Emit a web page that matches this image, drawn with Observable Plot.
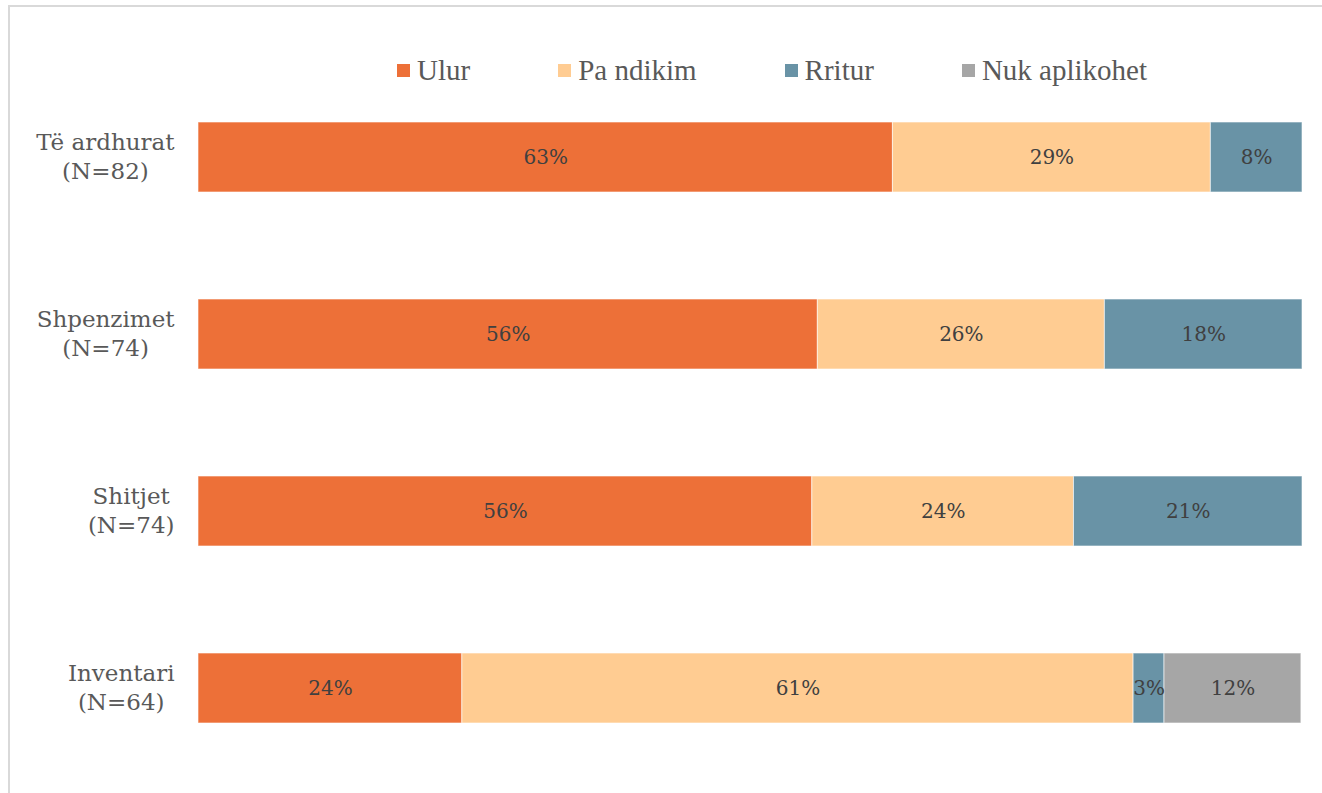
<!DOCTYPE html>
<html>
<head>
<meta charset="utf-8">
<script src="https://cdn.jsdelivr.net/npm/d3@7"></script>
<script src="https://cdn.jsdelivr.net/npm/@observablehq/plot@0.6"></script>
<style>
  html, body { margin: 0; padding: 0; background: #fff; }
  #wrap { position: relative; width: 1322px; height: 793px; overflow: hidden; background: #fff; }
  #frame { position: absolute; left: 8px; top: 5px; width: 1400px; height: 900px;
           border-left: 2px solid #d9d9d9; border-top: 2px solid #d9d9d9; }
  #legend { position: absolute; left: 397px; top: 54px; display: flex; gap: 88px;
            font-family: "Liberation Serif", serif; font-size: 29px; color: #595959; align-items: center; }
  #legend .item { display: flex; align-items: center; gap: 7px; }
  #legend .sw { width: 13px; height: 13px; display: inline-block; }
  #chart { position: absolute; left: 0; top: 0; }
</style>
</head>
<body>
<div id="wrap">
  <div id="frame"></div>
  <div id="chart"></div>
  <div id="legend"></div>
</div>
<script>
// ---- Data ----
const categories = ["Të ardhurat", "Shpenzimet", "Shitjet", "Inventari"];
const counts = [82, 74, 74, 64];
const series = ["Ulur", "Pa ndikim", "Rritur", "Nuk aplikohet"];
const colors = ["#ED7038", "#FFCC92", "#6993A6", "#A6A6A6"];
const ulur = [62.9, 56.1, 55.6, 23.9];
const paNdikim = [28.8, 26.0, 23.7, 60.8];
const rritur = [8.3, 17.9, 20.7, 2.8];
const nukAplikohet = [0, 0, 0, 12.4];

const seriesValues = [ulur, paNdikim, rritur, nukAplikohet];
const data = [];
series.forEach((s, si) => {
  categories.forEach((c, ci) => {
    data.push({category: c, series: s, value: seriesValues[si][ci]});
  });
});

const countOf = new Map(categories.map((c, i) => [c, counts[i]]));
const labelOf = c => c + "\n(N=" + countOf.get(c) + ")";

// measure label blocks so that lines are centred within a right-aligned block
const labelFont = 23;
const ctx = document.createElement("canvas").getContext("2d");
ctx.font = labelFont + "px 'DejaVu Serif'";
const blockWidth = c => Math.max(...labelOf(c).split("\n").map(l => ctx.measureText(l).width));
const gap = 24;

const labelMarks = categories.map(c => Plot.text([c], {
  y: d => d, text: labelOf, frameAnchor: "left", textAnchor: "middle",
  dx: -(gap + blockWidth(c) / 2), dy: -2, fontSize: labelFont, lineHeight: 1.25, fill: "#595959"
}));

const chart = Plot.plot({
  width: 1322,
  height: 793,
  marginLeft: 198,
  marginRight: 20,
  marginTop: 85.5,
  marginBottom: 33.3,
  style: {fontFamily: "'DejaVu Serif', serif", background: "transparent", overflow: "visible"},
  x: {domain: [0, 100], axis: null},
  y: {type: "band", domain: categories, paddingInner: 0.606, paddingOuter: 0.2, axis: null},
  color: {domain: series, range: colors},
  marks: [
    Plot.barX(data.filter(d => d.value > 0), Plot.stackX({
      x: "value", y: "category", fill: "series", order: series,
      stroke: "#fff", strokeOpacity: 0.6, strokeWidth: 1
    })),
    Plot.text(data, Plot.stackX({
      x: "value", y: "category", z: "series", order: series,
      text: d => d.value > 0 ? Math.round(d.value) + "%" : null,
      fill: "#404040", fontSize: 20
    })),
    ...labelMarks
  ]
});
document.getElementById("chart").appendChild(chart);

const legend = document.getElementById("legend");
series.forEach((s, i) => {
  const item = document.createElement("div");
  item.className = "item";
  const sw = document.createElement("span");
  sw.className = "sw";
  sw.style.background = colors[i];
  const t = document.createElement("span");
  t.textContent = s;
  item.appendChild(sw);
  item.appendChild(t);
  legend.appendChild(item);
});
</script>
</body>
</html>
